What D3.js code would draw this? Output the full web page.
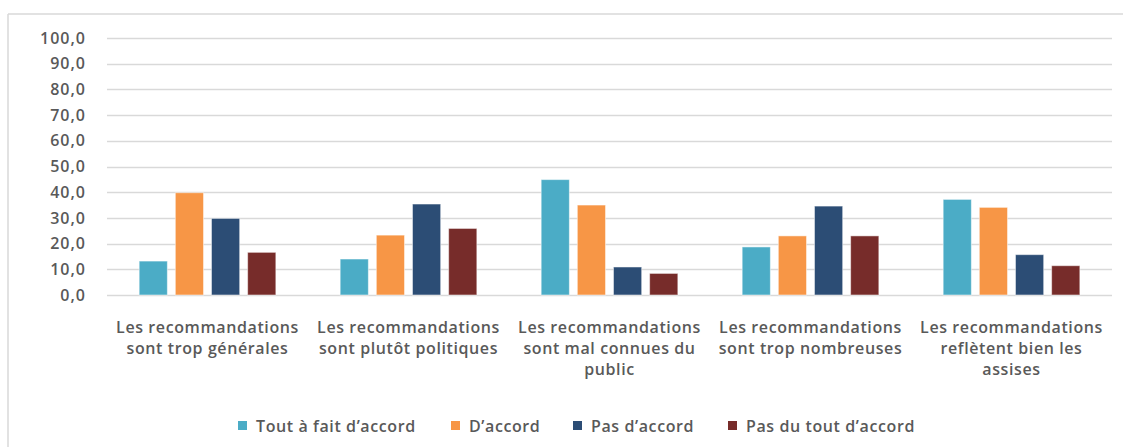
<!DOCTYPE html>
<html>
<head>
<meta charset="utf-8">
<script src="https://cdn.jsdelivr.net/npm/d3@7"></script>
<style>
  body { margin: 0; background: #fff; }
  svg text { font-family: "Open Sans", Lato, sans-serif; fill: #595959; font-weight: 600; letter-spacing: 0.6px; }
</style>
</head>
<body>
<svg></svg>
<script>
var categories = [
  "Les recommandations sont trop générales",
  "Les recommandations sont plutôt politiques",
  "Les recommandations sont mal connues du public",
  "Les recommandations sont trop nombreuses",
  "Les recommandations reflètent bien les assises"
];
var seriesNames = ["Tout à fait d’accord", "D’accord", "Pas d’accord", "Pas du tout d’accord"];
var toutAFait = [13.2, 14.0, 44.9, 18.7, 37.2];
var dAccord = [39.8, 23.3, 35.0, 23.0, 34.1];
var pasDAccord = [29.8, 35.4, 10.9, 34.6, 15.7];
var pasDuTout = [16.6, 25.9, 8.4, 23.0, 11.4];
var yTicks = [0, 10, 20, 30, 40, 50, 60, 70, 80, 90, 100];

var colors = ["#4BACC6", "#F79646", "#2C4D75", "#772C2A"];
var values = [toutAFait, dAccord, pasDAccord, pasDuTout];

var width = 1125;
var height = 447;
var svg = d3.select("svg")
            .attr("width", width)
            .attr("height", height);

// frame (only top and left visible in the original)
svg.append("line").attr("x1", 8).attr("x2", 1123).attr("y1", 14).attr("y2", 14)
   .attr("stroke", "#d9d9d9").attr("stroke-width", 1.5);
svg.append("line").attr("x1", 8).attr("x2", 8).attr("y1", 14).attr("y2", height)
   .attr("stroke", "#d9d9d9").attr("stroke-width", 1.5);

var plotLeft = 107, plotRight = 1112, plotTop = 38, plotBottom = 295;

var xScale = d3.scaleBand()
               .domain(categories)
               .range([plotLeft, plotRight]);

var yScale = d3.scaleLinear()
               .domain([0, 100])
               .range([plotBottom, plotTop]);

// inner scale for the 4 series inside a group
var groupWidth = xScale.bandwidth() * 0.68;
var inner = d3.scaleBand()
              .domain(d3.range(seriesNames.length))
              .range([0, groupWidth])
              .paddingInner(0.22);
var groupOffset = (xScale.bandwidth() - groupWidth) / 2;

// gridlines
svg.append("g")
  .selectAll("line")
  .data(yTicks)
  .enter()
  .append("line")
  .attr("x1", plotLeft)
  .attr("x2", plotRight)
  .attr("y1", function(d) { return Math.round(yScale(d)) + 0.5; })
  .attr("y2", function(d) { return Math.round(yScale(d)) + 0.5; })
  .attr("stroke", "#d9d9d9")
  .attr("stroke-width", 1.5);

// y axis labels
var yAxis = d3.axisLeft(yScale)
              .tickValues(yTicks)
              .tickSize(0)
              .tickPadding(0)
              .tickFormat(function(d) { return d3.format(".1f")(d).replace(".", ","); });
var yg = svg.append("g")
            .attr("transform", "translate(86,0)")
            .call(yAxis);
yg.select(".domain").remove();
yg.selectAll("text")
  .style("font-size", "16px")
  .style("letter-spacing", "1px")
  .attr("fill", "#595959");

// bars
values.forEach(function(series, i) {
  svg.append("g")
    .selectAll("rect")
    .data(series)
    .enter()
    .append("rect")
    .attr("x", function(d, j) { return xScale(categories[j]) + groupOffset + inner(i); })
    .attr("y", function(d) { return yScale(d); })
    .attr("width", inner.bandwidth())
    .attr("height", function(d) { return yScale(0) - yScale(d); })
    .attr("fill", colors[i])
    .attr("stroke", "#ffffff")
    .attr("stroke-opacity", 0.5)
    .attr("stroke-width", 1);
});

// category labels, wrapped to the band width
var xAxis = d3.axisBottom(xScale).tickSize(0).tickPadding(0);
var xg = svg.append("g")
            .attr("transform", "translate(0," + 322 + ")")
            .call(xAxis);
xg.select(".domain").remove();
xg.selectAll("text")
  .style("font-size", "16px")
  .attr("fill", "#595959")
  .each(function(d) {
    var text = d3.select(this);
    var words = d.split(" ");
    text.text(null);
    var lines = [];
    var line = [];
    var tspan = text.append("tspan");
    words.forEach(function(w) {
      line.push(w);
      tspan.text(line.join(" "));
      if (tspan.node().getComputedTextLength() > xScale.bandwidth() - 6 && line.length > 1) {
        line.pop();
        lines.push(line.join(" "));
        line = [w];
      }
    });
    lines.push(line.join(" "));
    text.text(null);
    lines.forEach(function(l, k) {
      text.append("tspan")
        .attr("x", 0)
        .attr("dy", k === 0 ? "0.71em" : "21px")
        .text(l);
    });
  });

// legend
var legendX = [238, 451, 573, 728];
var legend = svg.append("g")
  .selectAll("g")
  .data(seriesNames)
  .enter()
  .append("g")
  .attr("transform", function(d, i) { return "translate(" + legendX[i] + ",421)"; });
legend.append("rect")
  .attr("width", 9)
  .attr("height", 9)
  .attr("fill", function(d, i) { return colors[i]; });
legend.append("text")
  .attr("x", 18)
  .attr("y", 5)
  .attr("dy", "0.35em")
  .style("font-size", "16px")
  .text(function(d) { return d; });
</script>
</body>
</html>
